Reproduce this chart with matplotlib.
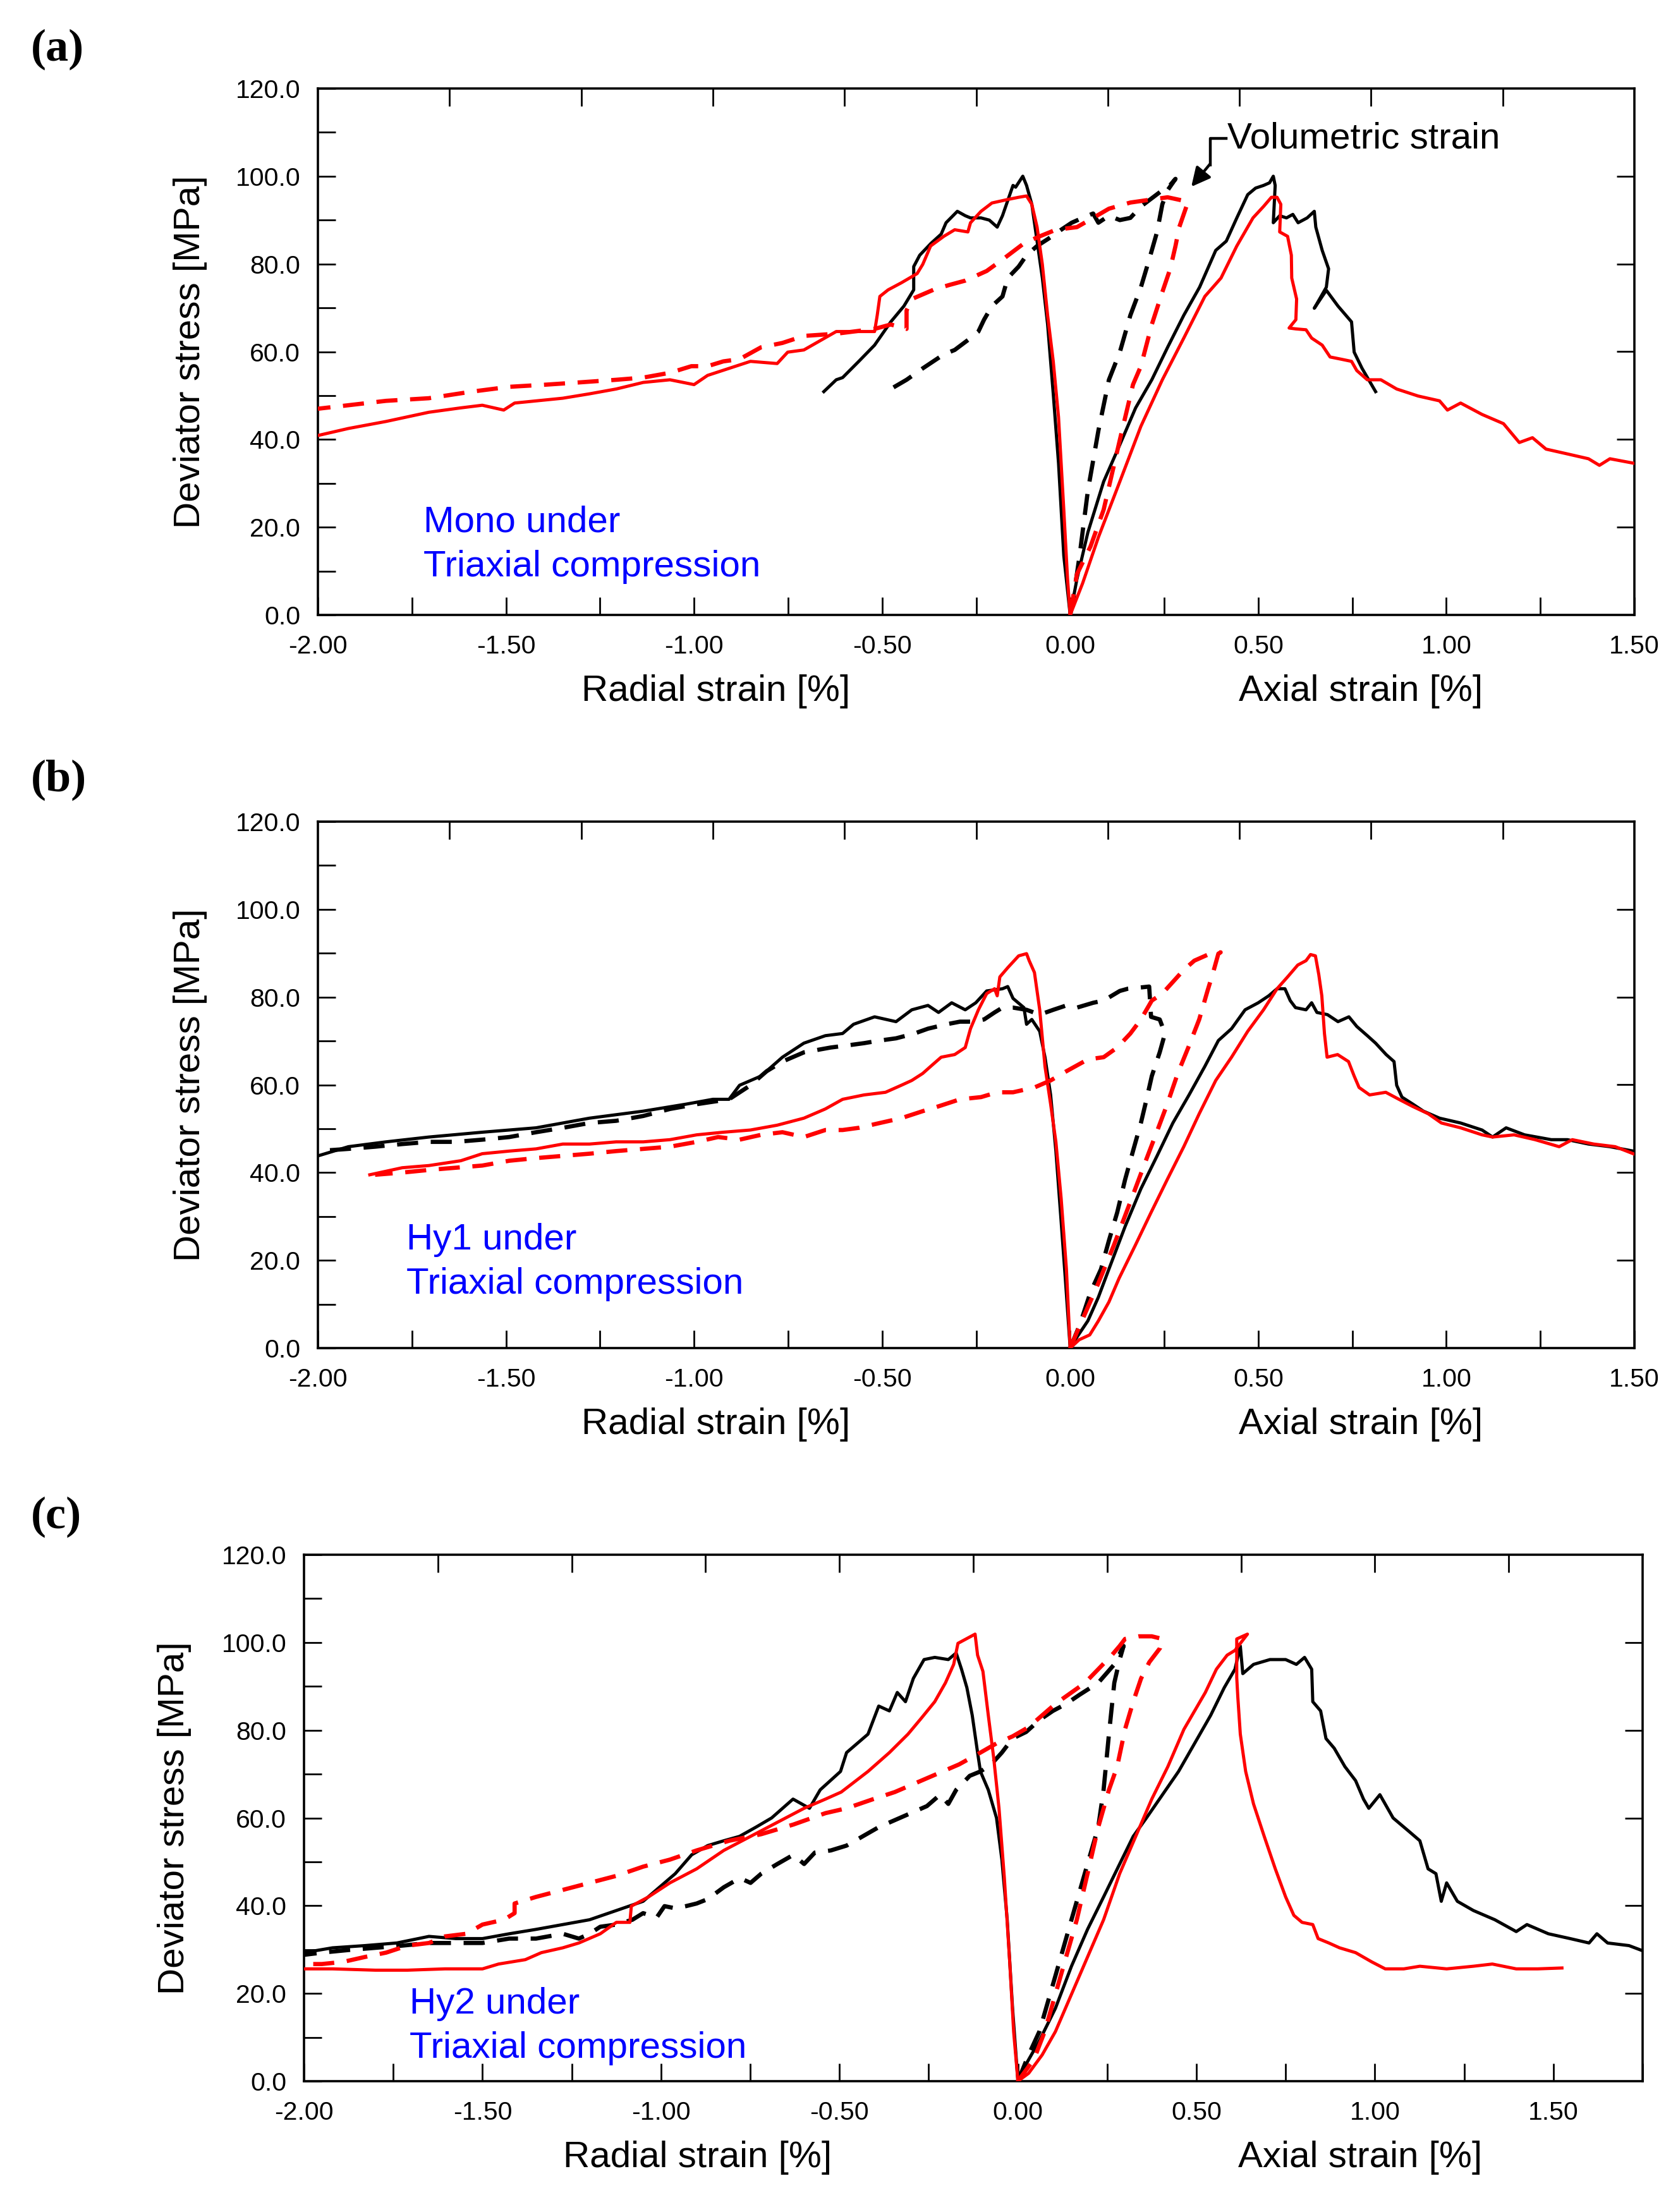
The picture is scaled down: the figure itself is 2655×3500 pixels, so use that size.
import numpy as np
import matplotlib
matplotlib.use("Agg")
import matplotlib.pyplot as plt

plt.rcParams['font.family'] = ['Liberation Sans', 'DejaVu Sans']
plt.rcParams['axes.unicode_minus'] = False

# ---------------- data: panel (a) Mono ----------------
a_blk_rad_x = [-0.655, -0.622, -0.605, -0.562, -0.52, -0.477, -0.442, -0.416, -0.416, -0.40, -0.37, -0.343, -0.33, -0.30, -0.279, -0.265, -0.237, -0.215, -0.194, -0.18, -0.152, -0.145, -0.126, -0.116, -0.102, -0.088, -0.074, -0.06, -0.045, -0.031, -0.017, 0.0]
a_blk_rad_y = [50.9, 53.6, 54.1, 57.8, 61.5, 66.8, 70.4, 74.1, 79.4, 82.0, 84.7, 86.8, 89.4, 92.0, 91.0, 90.5, 90.5, 90.0, 88.4, 91.0, 97.9, 97.5, 100.0, 97.9, 93.6, 85.2, 76.8, 66.2, 50.4, 34.6, 13.5, 0.0]
a_blk_ax_x = [0.0, 0.018, 0.047, 0.089, 0.132, 0.174, 0.217, 0.259, 0.302, 0.344, 0.387, 0.415, 0.443, 0.472, 0.493, 0.514, 0.53, 0.54, 0.545, 0.54, 0.557, 0.575, 0.592, 0.606, 0.63, 0.649, 0.653, 0.67, 0.687, 0.681, 0.649, 0.681, 0.712, 0.748, 0.755, 0.776, 0.812]
a_blk_ax_y = [0.0, 8.2, 18.8, 30.4, 38.8, 47.2, 53.6, 61.0, 68.3, 74.7, 83.1, 85.2, 90.5, 95.8, 97.3, 97.9, 98.5, 100.0, 97.9, 89.4, 91.0, 90.5, 91.3, 89.4, 90.5, 92.0, 88.4, 83.1, 78.9, 74.7, 69.9, 74.0, 70.4, 66.8, 59.9, 56.2, 50.9]
a_blk_vol_x = [0.0, 0.007, 0.025, 0.047, 0.075, 0.103, 0.132, 0.16, 0.188, 0.21, 0.231, 0.245, 0.259, 0.28, 0.259, 0.245, 0.188, 0.16, 0.132, 0.103, 0.075, 0.061, 0.033, 0.004, -0.024, -0.059, -0.088, -0.116, -0.137, -0.166, -0.18, -0.208, -0.229, -0.244, -0.265, -0.307, -0.336, -0.392, -0.435, -0.477]
a_blk_vol_y = [0.0, 3.0, 13.5, 28.3, 42.0, 53.6, 59.9, 68.3, 74.7, 81.0, 87.3, 93.6, 96.8, 99.4, 97.3, 96.8, 93.1, 90.5, 90.0, 91.0, 89.4, 91.5, 90.5, 89.4, 87.8, 85.7, 84.1, 82.0, 79.4, 76.8, 72.6, 70.4, 67.3, 64.6, 63.1, 60.4, 59.4, 56.2, 53.6, 51.5]
a_red_rad_x = [-2.0, -1.919, -1.819, -1.705, -1.62, -1.563, -1.506, -1.477, -1.349, -1.278, -1.207, -1.135, -1.064, -1.0, -0.964, -0.907, -0.85, -0.779, -0.751, -0.708, -0.665, -0.622, -0.605, -0.52, -0.513, -0.506, -0.484, -0.449, -0.407, -0.392, -0.371, -0.336, -0.307, -0.272, -0.265, -0.237, -0.208, -0.166, -0.137, -0.116, -0.102, -0.088, -0.074, -0.06, -0.045, -0.031, -0.017, -0.007, 0.0]
a_red_rad_y = [40.9, 42.5, 44.1, 46.2, 47.2, 47.8, 46.7, 48.3, 49.4, 50.4, 51.5, 53.0, 53.6, 52.5, 54.6, 56.2, 57.8, 57.3, 59.9, 60.4, 62.5, 64.6, 64.6, 64.6, 68.3, 72.6, 74.1, 75.7, 77.8, 79.9, 84.1, 86.3, 87.8, 87.3, 89.4, 92.0, 93.9, 94.7, 95.2, 95.5, 93.6, 88.4, 79.9, 68.3, 57.8, 45.1, 24.0, 8.2, 0.0]
a_red_ax_x = [0.0, 0.033, 0.075, 0.132, 0.188, 0.245, 0.302, 0.358, 0.401, 0.443, 0.486, 0.514, 0.535, 0.55, 0.56, 0.557, 0.578, 0.588, 0.589, 0.602, 0.60, 0.582, 0.60, 0.627, 0.642, 0.67, 0.691, 0.72, 0.748, 0.762, 0.79, 0.826, 0.868, 0.925, 0.982, 1.003, 1.038, 1.095, 1.152, 1.194, 1.229, 1.265, 1.322, 1.378, 1.407, 1.435, 1.497]
a_red_ax_y = [0.0, 7.2, 17.7, 30.4, 43.0, 53.6, 63.1, 72.6, 76.8, 84.1, 90.5, 93.1, 95.2, 95.2, 93.6, 87.3, 86.3, 82.0, 76.8, 72.0, 67.3, 65.4, 65.2, 65.0, 63.1, 61.5, 58.8, 58.3, 57.8, 55.7, 53.6, 53.6, 51.5, 49.9, 48.8, 46.7, 48.3, 45.7, 43.6, 39.3, 40.4, 37.8, 36.7, 35.6, 34.1, 35.6, 34.6]
a_red_vol_x = [0.0, 0.018, 0.054, 0.089, 0.132, 0.167, 0.188, 0.217, 0.245, 0.266, 0.28, 0.29, 0.309, 0.313, 0.259, 0.217, 0.16, 0.103, 0.061, 0.018, -0.038, -0.081, -0.123, -0.18, -0.222, -0.279, -0.322, -0.364, -0.421, -0.435, -0.435, -0.477, -0.52, -0.622, -0.708, -0.765, -0.822, -0.879, -0.922, -0.964, -1.007, -1.064, -1.135, -1.207, -1.306, -1.392, -1.491, -1.591, -1.705, -1.819, -1.919, -2.0]
a_red_vol_y = [0.0, 9.3, 15.6, 24.0, 39.9, 52.5, 56.7, 66.2, 73.6, 78.9, 84.1, 88.4, 93.1, 94.2, 95.2, 94.7, 94.0, 92.6, 90.5, 88.4, 87.8, 86.3, 84.7, 81.0, 78.4, 76.2, 75.2, 74.1, 72.0, 69.4, 65.2, 66.2, 65.2, 64.1, 63.6, 62.0, 61.0, 58.3, 57.8, 56.7, 56.7, 55.2, 54.1, 53.6, 53.0, 52.5, 52.0, 50.9, 49.4, 48.8, 47.8, 47.0]

# ---------------- data: panel (b) Hy1 ----------------
b_blk_rad_x = [-2.0, -1.919, -1.819, -1.705, -1.563, -1.42, -1.278, -1.135, -1.021, -0.95, -0.907, -0.879, -0.822, -0.765, -0.708, -0.651, -0.605, -0.576, -0.52, -0.463, -0.421, -0.378, -0.35, -0.315, -0.279, -0.251, -0.222, -0.18, -0.166, -0.152, -0.123, -0.116, -0.102, -0.081, -0.067, -0.052, -0.038, -0.024, -0.013, 0.0]
b_blk_rad_y = [43.8, 45.9, 47.0, 48.1, 49.2, 50.2, 52.4, 54.0, 55.6, 56.7, 56.7, 59.9, 62.0, 66.3, 69.5, 71.2, 71.7, 73.8, 75.5, 74.4, 77.1, 78.1, 76.5, 78.7, 77.1, 78.7, 81.4, 81.9, 82.4, 79.7, 77.6, 73.8, 74.9, 72.2, 66.3, 57.7, 44.9, 28.8, 15.9, 0.0]
b_blk_ax_x = [0.0, 0.018, 0.047, 0.075, 0.103, 0.146, 0.188, 0.231, 0.273, 0.316, 0.358, 0.394, 0.429, 0.465, 0.5, 0.528, 0.55, 0.571, 0.585, 0.599, 0.627, 0.642, 0.656, 0.684, 0.712, 0.741, 0.762, 0.79, 0.812, 0.84, 0.861, 0.868, 0.882, 0.911, 0.939, 0.982, 1.038, 1.095, 1.123, 1.159, 1.208, 1.279, 1.322, 1.378, 1.435, 1.497]
b_blk_ax_y = [0.0, 2.5, 6.2, 11.6, 18.0, 27.7, 36.3, 43.8, 51.3, 57.7, 64.2, 70.1, 72.8, 77.1, 78.7, 80.3, 81.9, 81.9, 79.2, 77.6, 77.1, 78.7, 76.5, 76.0, 74.4, 75.5, 73.3, 71.2, 69.5, 66.9, 65.3, 59.9, 57.2, 55.6, 54.0, 52.4, 51.3, 49.7, 48.1, 50.2, 48.6, 47.5, 47.5, 46.5, 45.9, 44.9]
b_blk_vol_x = [0.0, 0.025, 0.054, 0.082, 0.103, 0.125, 0.146, 0.167, 0.188, 0.203, 0.217, 0.238, 0.252, 0.238, 0.215, 0.21, 0.188, 0.153, 0.132, 0.089, 0.061, 0.018, -0.01, -0.045, -0.081, -0.116, -0.152, -0.18, -0.201, -0.229, -0.258, -0.293, -0.329, -0.378, -0.414, -0.463, -0.506, -0.548, -0.591, -0.637, -0.708, -0.765, -0.807, -0.85, -0.907, -0.992, -1.064, -1.135, -1.207, -1.278, -1.349, -1.42, -1.491, -1.563, -1.634, -1.705, -1.776, -1.848, -1.919, -2.0]
b_blk_vol_y = [0.0, 5.2, 12.7, 18.0, 24.5, 30.9, 38.4, 44.9, 51.3, 56.7, 62.0, 67.4, 71.7, 74.9, 75.5, 82.4, 82.2, 81.9, 81.4, 79.2, 78.7, 77.6, 78.1, 77.1, 76.0, 77.1, 77.6, 77.6, 76.5, 74.9, 74.4, 74.4, 73.8, 72.8, 71.7, 70.6, 70.1, 69.5, 69.0, 68.5, 67.4, 65.3, 63.1, 59.9, 56.7, 55.6, 54.5, 52.9, 51.8, 51.3, 50.2, 49.2, 48.1, 47.5, 47.0, 47.0, 46.5, 45.9, 45.4, 44.9]
b_red_rad_x = [-1.862, -1.776, -1.705, -1.62, -1.563, -1.491, -1.42, -1.349, -1.278, -1.207, -1.135, -1.064, -0.993, -0.922, -0.85, -0.779, -0.708, -0.651, -0.605, -0.548, -0.491, -0.449, -0.421, -0.392, -0.371, -0.343, -0.307, -0.279, -0.265, -0.244, -0.222, -0.201, -0.194, -0.187, -0.166, -0.137, -0.116, -0.109, -0.095, -0.081, -0.067, -0.052, -0.038, -0.024, -0.01, 0.0]
b_red_rad_y = [39.5, 41.1, 41.6, 42.7, 44.3, 44.9, 45.4, 46.5, 46.5, 47.0, 47.0, 47.5, 48.6, 49.2, 49.7, 50.8, 52.4, 54.5, 56.7, 57.7, 58.3, 59.9, 61.0, 62.6, 64.2, 66.3, 66.9, 68.5, 72.8, 77.1, 80.8, 81.9, 80.3, 84.6, 86.7, 89.4, 89.9, 88.3, 85.6, 77.1, 64.2, 55.6, 47.0, 34.1, 18.0, 0.0]
b_red_ax_x = [0.0, 0.024, 0.052, 0.075, 0.103, 0.13, 0.173, 0.215, 0.258, 0.302, 0.343, 0.387, 0.429, 0.472, 0.514, 0.55, 0.578, 0.605, 0.627, 0.639, 0.652, 0.661, 0.669, 0.676, 0.683, 0.711, 0.74, 0.755, 0.768, 0.796, 0.839, 0.874, 0.91, 0.952, 0.987, 1.038, 1.095, 1.123, 1.18, 1.236, 1.3, 1.335, 1.392, 1.449, 1.497]
b_red_ax_y = [0.0, 1.9, 3.0, 6.2, 10.5, 15.9, 23.4, 30.9, 38.4, 45.9, 53.4, 61.0, 66.3, 72.2, 77.1, 81.9, 84.6, 87.3, 88.3, 89.7, 89.4, 85.1, 80.3, 71.7, 66.3, 66.9, 65.3, 62.0, 59.4, 57.7, 58.3, 56.7, 55.1, 53.4, 51.3, 50.2, 48.6, 48.1, 48.6, 47.5, 45.9, 47.5, 46.5, 45.9, 44.3]
b_red_vol_x = [0.0, 0.031, 0.075, 0.116, 0.159, 0.201, 0.23, 0.258, 0.286, 0.314, 0.343, 0.365, 0.38, 0.394, 0.40, 0.372, 0.33, 0.302, 0.245, 0.217, 0.188, 0.16, 0.125, 0.089, 0.047, -0.01, -0.052, -0.095, -0.152, -0.194, -0.237, -0.293, -0.35, -0.392, -0.449, -0.506, -0.562, -0.605, -0.651, -0.708, -0.765, -0.822, -0.879, -0.936, -0.993, -1.064, -1.135, -1.207, -1.278, -1.349, -1.42, -1.491, -1.563, -1.634, -1.705, -1.776, -1.848]
b_red_vol_y = [0.0, 6.2, 14.8, 23.4, 33.1, 42.7, 49.2, 55.6, 62.6, 68.5, 74.9, 81.4, 85.6, 89.9, 90.2, 89.9, 88.3, 86.2, 80.8, 79.2, 74.9, 71.7, 68.5, 66.3, 65.8, 63.1, 61.0, 59.4, 58.3, 58.3, 57.2, 56.7, 55.1, 54.0, 52.4, 51.3, 50.2, 49.7, 49.7, 48.1, 49.2, 48.6, 47.5, 48.1, 47.0, 45.9, 45.4, 44.9, 44.3, 43.8, 43.3, 42.7, 41.6, 41.1, 40.6, 40.0, 39.5]

# ---------------- data: panel (c) Hy2 ----------------
c_blk_rad_x = [-2.0, -1.92, -1.83, -1.74, -1.65, -1.575, -1.5, -1.425, -1.35, -1.275, -1.2, -1.125, -1.05, -0.99, -0.96, -0.914, -0.869, -0.824, -0.78, -0.734, -0.69, -0.63, -0.584, -0.554, -0.497, -0.48, -0.45, -0.42, -0.39, -0.36, -0.338, -0.315, -0.293, -0.263, -0.233, -0.195, -0.173, -0.158, -0.143, -0.128, -0.113, -0.105, -0.083, -0.06, -0.045, -0.03, -0.015, 0.0]
c_blk_rad_y = [29.3, 30.4, 30.9, 31.5, 33.0, 32.5, 32.5, 33.6, 34.6, 35.7, 36.8, 38.9, 41.0, 45.2, 47.3, 51.6, 53.7, 54.8, 55.8, 57.9, 60.0, 64.3, 62.2, 66.4, 70.6, 74.9, 77.0, 79.1, 85.5, 84.4, 88.6, 86.5, 91.8, 96.1, 96.6, 96.1, 97.6, 93.9, 89.7, 83.4, 74.9, 70.6, 66.4, 60.0, 50.5, 36.8, 16.6, 0.0]
c_blk_ax_x = [0.0, 0.023, 0.06, 0.105, 0.15, 0.195, 0.24, 0.285, 0.323, 0.36, 0.405, 0.45, 0.495, 0.54, 0.578, 0.608, 0.623, 0.63, 0.66, 0.706, 0.75, 0.78, 0.803, 0.823, 0.826, 0.848, 0.863, 0.886, 0.916, 0.946, 0.968, 0.983, 1.014, 1.051, 1.096, 1.126, 1.149, 1.171, 1.186, 1.201, 1.231, 1.276, 1.336, 1.396, 1.426, 1.486, 1.547, 1.6, 1.622, 1.652, 1.712, 1.764]
c_blk_ax_y = [0.0, 3.9, 9.2, 16.6, 26.2, 34.6, 42.0, 49.5, 55.8, 60.0, 65.3, 70.6, 77.0, 83.4, 89.7, 93.9, 99.2, 92.9, 95.0, 96.1, 96.1, 95.0, 96.6, 93.9, 86.5, 84.4, 78.1, 75.9, 71.7, 68.5, 64.3, 62.2, 65.3, 60.0, 56.9, 54.8, 48.4, 47.3, 41.0, 45.2, 41.0, 38.9, 36.8, 34.1, 35.7, 33.6, 32.5, 31.5, 33.6, 31.5, 30.9, 29.3]
c_blk_vol_x = [0.0, 0.03, 0.06, 0.105, 0.15, 0.195, 0.225, 0.24, 0.255, 0.27, 0.285, 0.296, 0.27, 0.225, 0.173, 0.135, 0.098, 0.06, 0.023, -0.015, -0.045, -0.075, -0.105, -0.135, -0.173, -0.195, -0.218, -0.255, -0.3, -0.345, -0.39, -0.435, -0.48, -0.524, -0.569, -0.599, -0.629, -0.674, -0.719, -0.749, -0.779, -0.824, -0.869, -0.9, -0.93, -0.96, -0.99, -1.012, -1.05, -1.08, -1.125, -1.17, -1.2, -1.23, -1.275, -1.35, -1.425, -1.5, -1.575, -1.65, -1.725, -1.8, -1.875, -1.95, -2.0]
c_blk_vol_y = [0.0, 6.0, 11.3, 24.0, 36.8, 49.5, 57.9, 66.4, 79.1, 90.8, 96.1, 99.2, 95.0, 90.8, 88.1, 86.0, 84.4, 82.3, 79.6, 78.1, 74.9, 72.2, 70.6, 69.6, 66.4, 63.2, 65.3, 62.7, 61.1, 59.5, 57.9, 55.8, 53.7, 52.6, 52.1, 49.5, 51.6, 49.5, 47.3, 45.2, 46.3, 44.2, 41.5, 40.5, 39.9, 39.4, 39.9, 37.3, 38.3, 36.8, 35.7, 35.2, 33.6, 32.5, 33.6, 32.5, 32.5, 31.5, 31.5, 31.5, 30.9, 30.4, 29.9, 29.3, 28.8]
c_red_rad_x = [-2.0, -1.92, -1.8, -1.71, -1.605, -1.5, -1.455, -1.38, -1.335, -1.275, -1.23, -1.17, -1.125, -1.087, -1.083, -1.035, -0.975, -0.9, -0.824, -0.749, -0.674, -0.599, -0.539, -0.495, -0.42, -0.36, -0.308, -0.27, -0.233, -0.203, -0.18, -0.168, -0.12, -0.113, -0.098, -0.083, -0.068, -0.053, -0.038, -0.023, -0.012, 0.0]
c_red_rad_y = [25.6, 25.6, 25.3, 25.3, 25.6, 25.6, 26.7, 27.7, 29.3, 30.4, 31.5, 33.6, 36.2, 36.2, 39.9, 42.0, 45.2, 48.4, 52.6, 55.8, 59.0, 62.2, 64.3, 65.9, 70.6, 74.9, 79.1, 82.8, 86.5, 90.8, 95.0, 99.8, 101.9, 97.1, 93.4, 83.4, 73.8, 62.2, 46.3, 27.2, 11.3, 0.0]
c_red_ax_x = [0.0, 0.03, 0.068, 0.105, 0.15, 0.195, 0.24, 0.285, 0.33, 0.375, 0.42, 0.465, 0.495, 0.525, 0.556, 0.586, 0.608, 0.643, 0.613, 0.613, 0.616, 0.623, 0.638, 0.66, 0.69, 0.721, 0.75, 0.773, 0.796, 0.826, 0.841, 0.871, 0.901, 0.946, 0.991, 1.029, 1.081, 1.126, 1.201, 1.276, 1.329, 1.396, 1.456, 1.524]
c_red_ax_y = [0.0, 1.8, 6.0, 11.3, 19.8, 28.3, 36.8, 47.3, 55.8, 64.3, 71.7, 80.2, 84.4, 88.6, 93.9, 97.1, 98.2, 101.9, 100.8, 92.0, 87.6, 79.1, 70.6, 63.2, 55.8, 48.4, 42.0, 37.8, 36.2, 35.7, 32.5, 31.5, 30.4, 29.3, 27.2, 25.6, 25.6, 26.2, 25.6, 26.2, 26.7, 25.6, 25.6, 25.8]
c_red_vol_x = [0.0, 0.045, 0.075, 0.105, 0.135, 0.165, 0.195, 0.225, 0.255, 0.278, 0.30, 0.323, 0.345, 0.368, 0.383, 0.398, 0.405, 0.375, 0.338, 0.30, 0.285, 0.263, 0.225, 0.188, 0.15, 0.105, 0.068, 0.03, -0.015, -0.06, -0.105, -0.165, -0.225, -0.285, -0.345, -0.405, -0.48, -0.539, -0.629, -0.719, -0.809, -0.9, -0.975, -1.05, -1.125, -1.2, -1.275, -1.35, -1.41, -1.41, -1.44, -1.5, -1.545, -1.605, -1.65, -1.71, -1.77, -1.83, -1.89, -1.95, -2.0]
c_red_vol_y = [0.0, 5.0, 11.3, 19.8, 28.3, 36.8, 47.3, 57.9, 66.4, 71.7, 80.2, 86.5, 91.8, 95.5, 97.1, 98.7, 100.8, 101.4, 101.4, 100.8, 99.2, 97.1, 93.9, 90.8, 88.6, 86.0, 83.4, 80.7, 78.6, 77.0, 74.9, 72.2, 70.1, 68.0, 65.9, 64.3, 62.2, 61.1, 58.5, 56.3, 54.8, 52.6, 50.5, 48.9, 46.8, 45.2, 43.6, 42.0, 40.5, 38.3, 36.8, 35.7, 33.6, 33.0, 31.5, 30.9, 29.3, 28.3, 27.2, 26.7, 26.7]

panel_letters = ['(a)', '(b)', '(c)']
panel_texts = ['Mono under\nTriaxial compression', 'Hy1 under\nTriaxial compression', 'Hy2 under\nTriaxial compression']
x_limits = [(-2.0, 1.5), (-2.0, 1.5), (-2.0, 1.75)]
x_ticklabels_max = [1.5, 1.5, 1.5]
y_label = 'Deviator stress [MPa]'
radial_label = 'Radial strain [%]'
axial_label = 'Axial strain [%]'

panels = [
    dict(blk=[(a_blk_rad_x, a_blk_rad_y), (a_blk_ax_x, a_blk_ax_y)], blk_vol=(a_blk_vol_x, a_blk_vol_y),
         red=[(a_red_rad_x, a_red_rad_y), (a_red_ax_x, a_red_ax_y)], red_vol=(a_red_vol_x, a_red_vol_y)),
    dict(blk=[(b_blk_rad_x, b_blk_rad_y), (b_blk_ax_x, b_blk_ax_y)], blk_vol=(b_blk_vol_x, b_blk_vol_y),
         red=[(b_red_rad_x, b_red_rad_y), (b_red_ax_x, b_red_ax_y)], red_vol=(b_red_vol_x, b_red_vol_y)),
    dict(blk=[(c_blk_rad_x, c_blk_rad_y), (c_blk_ax_x, c_blk_ax_y)], blk_vol=(c_blk_vol_x, c_blk_vol_y),
         red=[(c_red_rad_x, c_red_rad_y), (c_red_ax_x, c_red_ax_y)], red_vol=(c_red_vol_x, c_red_vol_y)),
]

W, H = 2655, 3500
fig = plt.figure(figsize=(W / 100, H / 100), dpi=100)

boxes = [(503, 140, 2586, 973), (503, 1300, 2586, 2133), (481, 2460, 2599, 3293)]
text_pos = [(-1.72, 16.0), (-1.765, 19.6), (-1.705, 12.5)]
letter_y = [78, 1234, 2400]
RED = '#ff0000'
TICK_FS = 29.5
LAB_FS = 42
LW_SOLID = 3.6
LW_DASH = 4.8

for i, (p, box) in enumerate(zip(panels, boxes)):
    l, t, r, b = box
    ax = fig.add_axes([l / W, 1 - b / H, (r - l) / W, (b - t) / H])
    x0, x1 = x_limits[i]
    ax.set_xlim(x0, x1)
    ax.set_ylim(0, 120)
    for s in ax.spines.values():
        s.set_linewidth(2.6)
    ax.set_xticks(np.arange(-2.0, x_ticklabels_max[i] + 0.01, 0.5))
    ax.set_xticklabels(['%.2f' % v for v in np.arange(-2.0, x_ticklabels_max[i] + 0.01, 0.5)])
    ax.set_xticks(np.arange(-2.0, x1 + 0.001, 0.25), minor=True)
    ax.set_yticks(np.arange(0, 121, 20))
    ax.set_yticklabels(['%.1f' % v for v in np.arange(0, 121, 20)])
    ax.set_yticks(np.arange(0, 121, 10), minor=True)
    ax.tick_params(which='both', direction='in', length=20, width=2.0, top=False, right=False,
                   labelsize=TICK_FS)
    ax.tick_params(axis='x', which='major', pad=22)
    ax.tick_params(axis='y', which='major', pad=20)

    # top ticks: ten equal divisions
    axt = ax.twiny()
    axt.set_xlim(0, 10)
    axt.set_xticks(np.arange(1, 10))
    axt.tick_params(axis='x', direction='in', length=20, width=2.0, labeltop=False, top=True)
    # right ticks
    axr = ax.twinx()
    axr.set_ylim(0, 120)
    axr.set_yticks(np.arange(20, 101, 20))
    axr.tick_params(axis='y', direction='in', length=20, width=2.0, labelright=False, right=True)
    for a2 in (axt, axr):
        for s in a2.spines.values():
            s.set_visible(False)

    for (xs, ys) in p['red']:
        ax.plot(xs, ys, color=RED, lw=LW_SOLID, solid_joinstyle='round', zorder=3)
    ax.plot(*p['red_vol'], color=RED, lw=LW_DASH, dashes=(5, 3), zorder=3)
    for (xs, ys) in p['blk']:
        ax.plot(xs, ys, color='black', lw=LW_SOLID, solid_joinstyle='round', zorder=2)
    ax.plot(*p['blk_vol'], color='black', lw=LW_DASH, dashes=(5, 3), zorder=2)

    tx, ty = text_pos[i]
    ax.text(tx, ty, panel_texts[i], color='#0000ff', fontsize=LAB_FS, ha='left', va='center',
            linespacing=1.38)

    ax.text(0.302 if i < 2 else 0.294, -0.145, radial_label, transform=ax.transAxes,
            fontsize=LAB_FS, ha='center', va='center')
    ax.text(0.792 if i < 2 else 0.789, -0.145, axial_label, transform=ax.transAxes,
            fontsize=LAB_FS, ha='center', va='center')
    ax.text(-0.097, 0.5, y_label, transform=ax.transAxes, rotation=90,
            fontsize=LAB_FS, ha='center', va='center')

    fig.text(49 / W, 1 - letter_y[i] / H, panel_letters[i], fontsize=52, fontweight='bold',
             family=['Liberation Serif', 'DejaVu Serif'], ha='left', va='center')

    if i == 0:
        ax.text(0.418, 108.6, 'Volumetric strain', fontsize=LAB_FS, ha='left', va='center')
        ax.plot([0.414, 0.372, 0.372], [108.6, 108.6, 102.5], color='black', lw=3.2,
                solid_joinstyle='round')
        ax.annotate('', xy=(0.322, 97.6), xytext=(0.372, 102.8),
                    arrowprops=dict(arrowstyle='-|>', color='black', lw=3.2,
                                    mutation_scale=45, shrinkA=0, shrinkB=0))

fig.savefig('out.png', dpi=100)
